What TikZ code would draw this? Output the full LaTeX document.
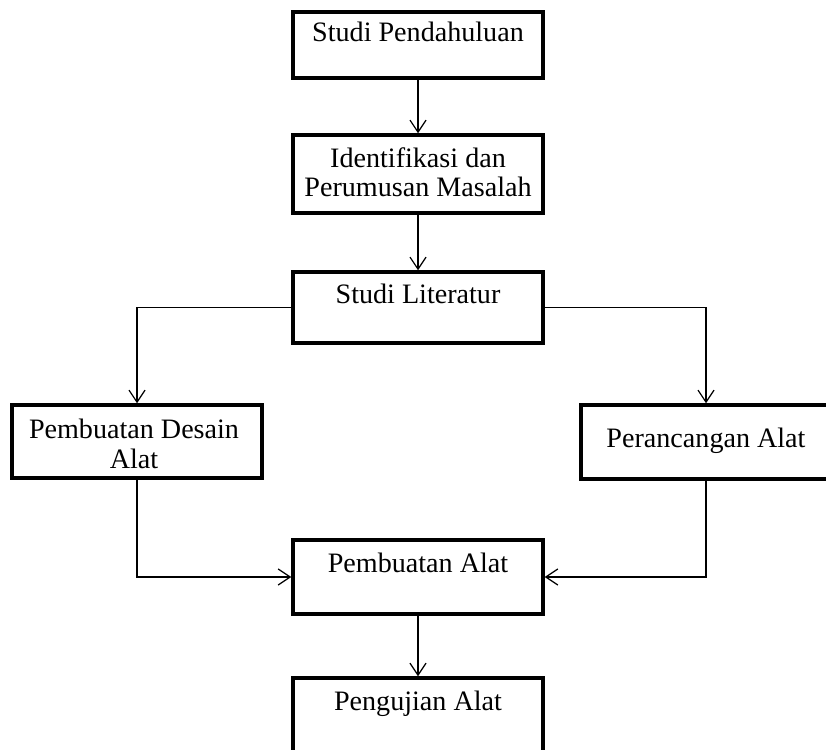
\documentclass[tikz,border=0pt]{standalone}
\usepackage{fontspec}
\setmainfont{Liberation Serif}
\usetikzlibrary{arrows.meta}

\tikzset{kotak/.style={draw, line width=2pt, minimum width=5cm, inner sep=0pt},
         etq/.style={font=\fontsize{16}{17}\selectfont, align=center, anchor=base, inner sep=0pt},
         panah/.style={line width=0.7pt, -{Straight Barb[length=2.4mm, width=3.2mm]}}}

\begin{document}
\begin{tikzpicture}[x=0.02cm, y=-0.02cm]
  \clip (0,0) rectangle (826,750);
  % kotak
  \node[kotak, minimum height=1.32cm] (studi)   at (418,45)    {};
  \node[kotak, minimum height=1.56cm] (ident)   at (418,174)   {};
  \node[kotak, minimum height=1.42cm] (lit)     at (418,307.5) {};
  \node[kotak, minimum height=1.46cm] (desain)  at (137,441.5) {};
  \node[kotak, minimum height=1.48cm] (rancang) at (706,442)   {};
  \node[kotak, minimum height=1.48cm] (buat)    at (418,577)   {};
  \node[kotak, minimum height=1.80cm] (uji)     at (418,723)   {};
  % teks (baris terakhir di garis dasar)
  \node[etq] (tstudi)   at (418,42)  {Studi Pendahuluan};
  \node[etq] (tident)   at (418,197) {Identifikasi dan\\Perumusan Masalah};
  \node[etq] (tlit)     at (418,303) {Studi Literatur};
  \node[etq] (tdesain)  at (134,468) {Pembuatan Desain\\Alat};
  \node[etq] (trancang) at (706,447) {Perancangan Alat};
  \node[etq] (tbuat)    at (418,572) {Pembuatan Alat};
  \node[etq] (tuji)     at (418,710) {Pengujian Alat};
  % panah
  \draw[panah] (studi) -- (ident);
  \draw[panah] (ident) -- (lit);
  \draw[panah] (lit.west) -| (desain.north);
  \draw[panah] (lit.east) -| (rancang.north);
  \draw[panah] (desain.south) |- (buat.west);
  \draw[panah] (rancang.south) |- (buat.east);
  \draw[panah] (buat) -- (uji);
\end{tikzpicture}
\end{document}
